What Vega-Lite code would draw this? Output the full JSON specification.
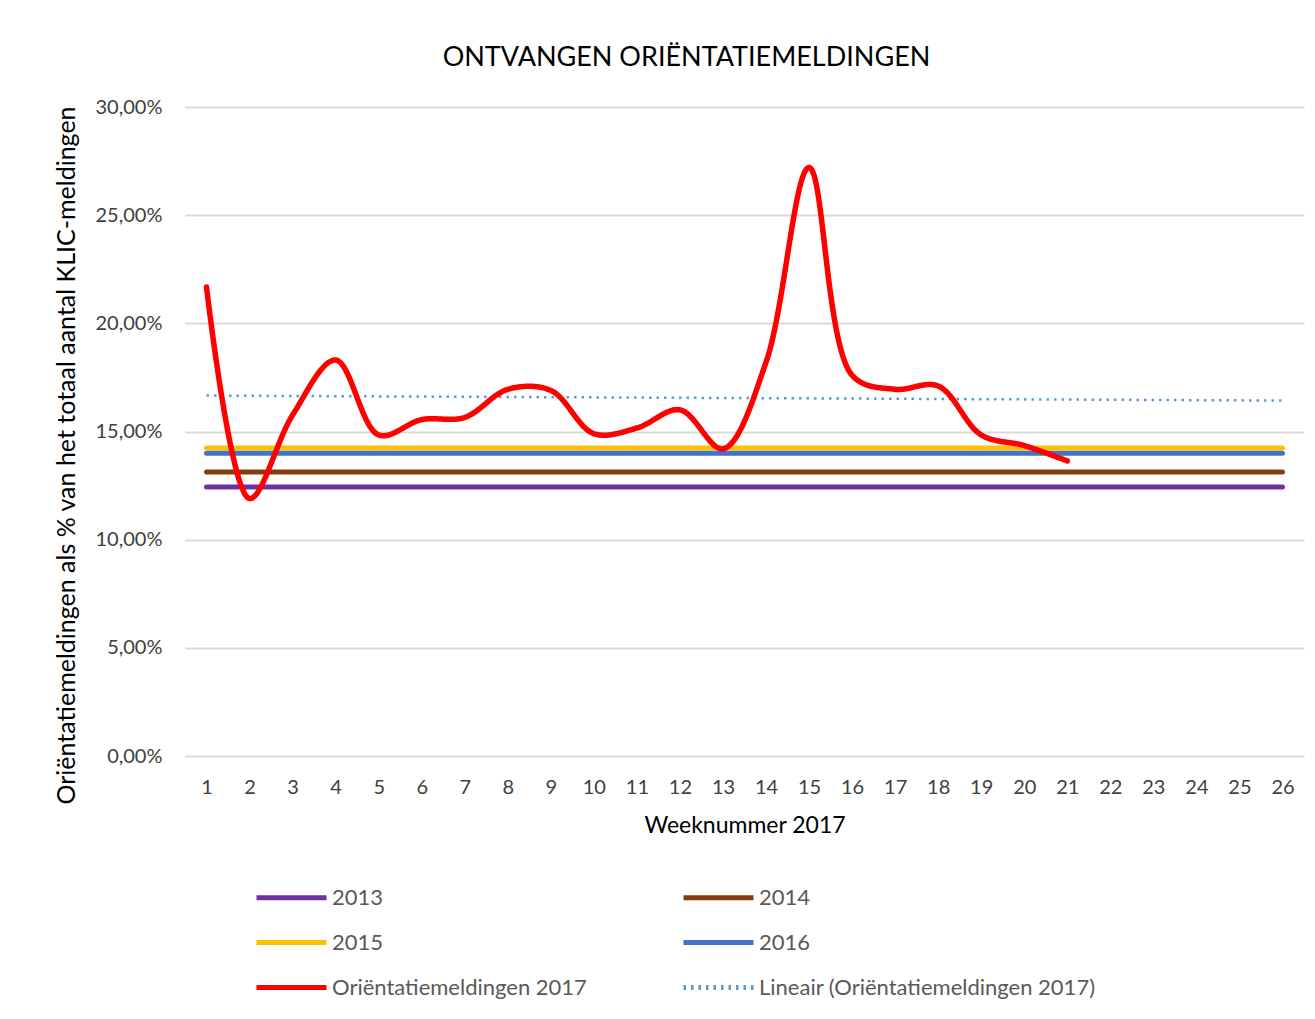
{
  "$schema": "https://vega.github.io/schema/vega-lite/v6.json",
  "width": 1119,
  "height": 649,
  "autosize": {"type": "none"},
  "padding": {"left": 185, "top": 107, "right": 11, "bottom": 263},
  "background": "white",
  "config": {
    "font": "Lato",
    "view": {"stroke": null},
    "locale": {"number": {"decimal": ",", "thousands": ".", "grouping": [3], "currency": ["€", ""]}}
  },
  "title": {
    "text": "ONTVANGEN ORIËNTATIEMELDINGEN",
    "fontSize": 27,
    "fontWeight": "normal",
    "color": "#000000",
    "anchor": "middle",
    "offset": 25,
    "dx": -58
  },
  "datasets": {
    "flat": [
      {"week": 1, "series": "2013", "value": 0.1244},
      {"week": 26, "series": "2013", "value": 0.1244},
      {"week": 1, "series": "2014", "value": 0.1313},
      {"week": 26, "series": "2014", "value": 0.1313},
      {"week": 1, "series": "2015", "value": 0.1424},
      {"week": 26, "series": "2015", "value": 0.1424},
      {"week": 1, "series": "2016", "value": 0.1400},
      {"week": 26, "series": "2016", "value": 0.1400}
    ],
    "trend": [
      {"week": 1, "series": "Lineair (Oriëntatiemeldingen 2017)", "value": 0.1666},
      {"week": 26, "series": "Lineair (Oriëntatiemeldingen 2017)", "value": 0.1643}
    ],
    "red": [
      {"week": 1, "series": "Oriëntatiemeldingen 2017", "value": 0.2168},
      {"week": 2, "series": "Oriëntatiemeldingen 2017", "value": 0.1190},
      {"week": 3, "series": "Oriëntatiemeldingen 2017", "value": 0.1576},
      {"week": 4, "series": "Oriëntatiemeldingen 2017", "value": 0.1830},
      {"week": 5, "series": "Oriëntatiemeldingen 2017", "value": 0.1484},
      {"week": 6, "series": "Oriëntatiemeldingen 2017", "value": 0.1555},
      {"week": 7, "series": "Oriëntatiemeldingen 2017", "value": 0.1565},
      {"week": 8, "series": "Oriëntatiemeldingen 2017", "value": 0.1695},
      {"week": 9, "series": "Oriëntatiemeldingen 2017", "value": 0.1690},
      {"week": 10, "series": "Oriëntatiemeldingen 2017", "value": 0.1490},
      {"week": 11, "series": "Oriëntatiemeldingen 2017", "value": 0.1516},
      {"week": 12, "series": "Oriëntatiemeldingen 2017", "value": 0.1600},
      {"week": 13, "series": "Oriëntatiemeldingen 2017", "value": 0.1420},
      {"week": 14, "series": "Oriëntatiemeldingen 2017", "value": 0.1820},
      {"week": 15, "series": "Oriëntatiemeldingen 2017", "value": 0.2720},
      {"week": 16, "series": "Oriëntatiemeldingen 2017", "value": 0.1760},
      {"week": 17, "series": "Oriëntatiemeldingen 2017", "value": 0.1695},
      {"week": 18, "series": "Oriëntatiemeldingen 2017", "value": 0.1710},
      {"week": 19, "series": "Oriëntatiemeldingen 2017", "value": 0.1484},
      {"week": 20, "series": "Oriëntatiemeldingen 2017", "value": 0.1435},
      {"week": 21, "series": "Oriëntatiemeldingen 2017", "value": 0.1364}
    ]
  },
  "encoding": {
    "x": {
      "field": "week",
      "type": "ordinal",
      "scale": {"type": "point", "padding": 0.5, "domain": [1,2,3,4,5,6,7,8,9,10,11,12,13,14,15,16,17,18,19,20,21,22,23,24,25,26]},
      "axis": {
        "title": "Weeknummer 2017",
        "titleFontSize": 23,
        "titleFontWeight": "normal",
        "titleColor": "#000000",
        "titlePadding": 17,
        "labelAngle": 0,
        "labelFontSize": 20,
        "labelColor": "#404040",
        "labelPadding": 21,
        "ticks": false,
        "domain": false,
        "grid": false
      }
    },
    "y": {
      "field": "value",
      "type": "quantitative",
      "scale": {"domain": [0, 0.3], "nice": false, "zero": true},
      "axis": {
        "title": "Oriëntatiemeldingen als % van het totaal aantal KLIC-meldingen",
        "titleFontSize": 25,
        "titleFontWeight": "normal",
        "titleColor": "#000000",
        "titleX": -119,
        "titleY": 348,
        "titleAngle": -90,
        "titleAlign": "center",
        "titleBaseline": "middle",
        "values": [0, 0.05, 0.1, 0.15, 0.2, 0.25, 0.3],
        "format": ".2%",
        "labelFontSize": 20,
        "labelColor": "#404040",
        "labelPadding": 23,
        "ticks": false,
        "domain": false,
        "grid": true,
        "gridColor": "#d9d9d9",
        "gridWidth": 2
      }
    },
    "color": {
      "field": "series",
      "type": "nominal",
      "scale": {
        "domain": ["2013", "2015", "Oriëntatiemeldingen 2017", "2014", "2016", "Lineair (Oriëntatiemeldingen 2017)"],
        "range": ["#7030A0", "#FFC000", "#FF0000", "#843C0C", "#4472C4", "#5B9BD5"]
      },
      "legend": {
        "title": null,
        "orient": "none",
        "legendX": 69,
        "legendY": 778,
        "columns": 2,
        "symbolType": "M-1,0H6",
        "symbolSize": 400,
        "symbolStrokeWidth": 5,
        "labelOffset": 53,
        "labelFontSize": 22,
        "labelColor": "#595959",
        "labelLimit": 400,
        "rowPadding": 21,
        "columnPadding": 86
      }
    },
    "strokeDash": {
      "field": "series",
      "type": "nominal",
      "scale": {
        "domain": ["2013", "2015", "Oriëntatiemeldingen 2017", "2014", "2016", "Lineair (Oriëntatiemeldingen 2017)"],
        "range": [[1, 0], [1, 0], [1, 0], [1, 0], [1, 0], [2.5, 5]]
      },
      "legend": {
        "title": null,
        "orient": "none",
        "legendX": 69,
        "legendY": 778,
        "columns": 2,
        "symbolType": "M-1,0H6",
        "symbolSize": 400,
        "symbolStrokeWidth": 5,
        "labelOffset": 53,
        "labelFontSize": 22,
        "labelColor": "#595959",
        "labelLimit": 400,
        "rowPadding": 21,
        "columnPadding": 86
      }
    }
  },
  "layer": [
    {
      "data": {"name": "flat"},
      "mark": {"type": "line", "strokeWidth": 5, "strokeCap": "round"}
    },
    {
      "data": {"name": "trend"},
      "mark": {"type": "line", "strokeWidth": 2.5}
    },
    {
      "data": {"name": "red"},
      "mark": {"type": "line", "strokeWidth": 5.5, "strokeCap": "round", "interpolate": "catmull-rom"}
    }
  ]
}
